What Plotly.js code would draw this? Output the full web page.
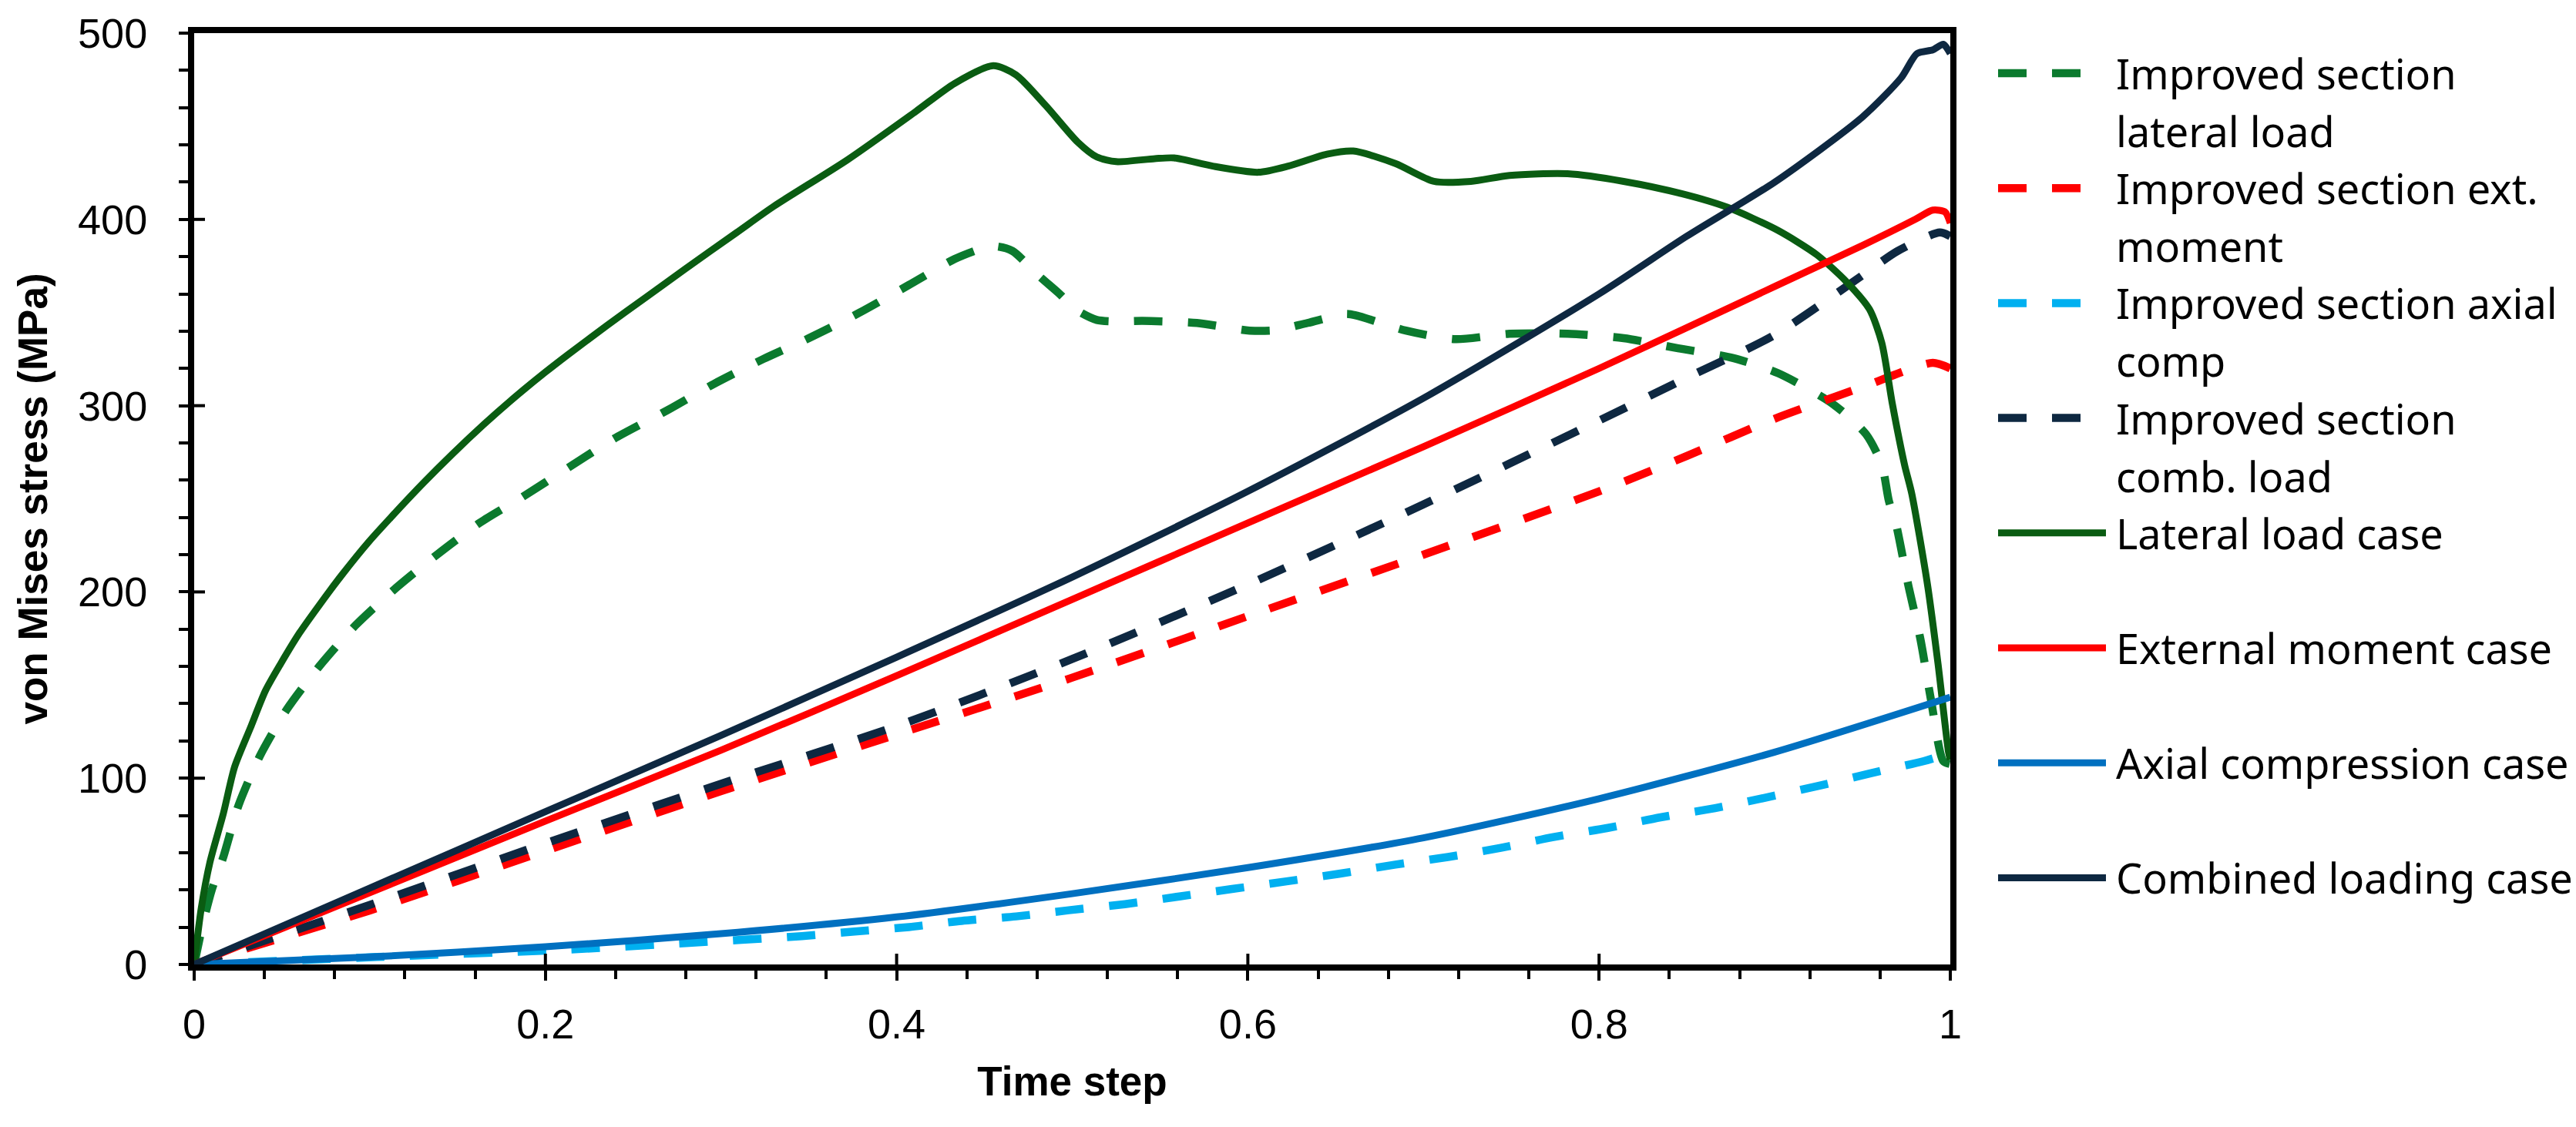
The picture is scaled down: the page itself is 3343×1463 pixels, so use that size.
<!DOCTYPE html>
<html>
<head>
<meta charset="utf-8">
<script src="https://cdn.plot.ly/plotly-3.0.1.min.js"></script>
<style>
  html, body { margin: 0; padding: 0; background: #ffffff; }
  #chart { width: 3343px; height: 1463px; }
</style>
</head>
<body>
<div id="chart"></div>
<script>
// legend labels (line breaks as in the original legend)
const seriesNames = [
    'Improved section<br>lateral load',
    'Improved section ext.<br>moment',
    'Improved section axial<br>comp',
    'Improved section<br>comb. load',
    'Lateral load case',
    'External moment case',
    'Axial compression case',
    'Combined loading case'
];

// Improved section - lateral load (dashed green)
const xImpLateral = [0, 0.005, 0.01, 0.0166, 0.0253, 0.0373, 0.0526, 0.0711, 0.0918, 0.1148, 0.1388, 0.1628, 0.187, 0.213, 0.239, 0.27, 0.296, 0.324, 0.35, 0.379, 0.407, 0.433, 0.449, 0.457, 0.466, 0.481, 0.492, 0.503, 0.514, 0.525, 0.54, 0.571, 0.601, 0.616, 0.634, 0.656, 0.662, 0.69, 0.718, 0.749, 0.782, 0.814, 0.845, 0.876, 0.902, 0.933, 0.952, 0.961, 0.965, 0.969, 0.976, 0.983, 0.989, 0.996, 1.0];
const yImpLateral = [0, 22, 40, 57.7, 85.5, 111.7, 136.7, 159.9, 182, 202, 220.4, 237.2, 251, 266.7, 282.2, 297.8, 311.7, 325, 336.2, 350, 364.8, 378.7, 384.5, 385.5, 383, 369.7, 360.7, 351, 346, 345.2, 345.5, 344.4, 340.3, 340.5, 344.4, 349.3, 348.4, 340.3, 335.7, 338.6, 338.6, 336.2, 330.8, 325.6, 317.4, 301, 284.7, 268.3, 249, 236.8, 204, 174.6, 142, 109.2, 107.6];

// Improved section - external moment (dashed red)
const xImpMoment = [0, 0.1, 0.2, 0.3, 0.4, 0.5, 0.6, 0.7, 0.8, 0.85, 0.9, 0.95, 0.99, 1.0];
const yImpMoment = [0, 29, 61, 93, 123.5, 154, 187, 220, 254, 273, 293, 310, 323, 320];

// Improved section - axial compression (dashed light blue)
const xImpAxial = [0, 0.104, 0.213, 0.28, 0.346, 0.376, 0.407, 0.437, 0.468, 0.498, 0.53, 0.561, 0.591, 0.622, 0.652, 0.684, 0.714, 0.744, 0.774, 0.805, 0.835, 0.866, 0.895, 0.926, 0.955, 0.985, 1.0];
const yImpAxial = [0, 4, 8, 11.5, 15.2, 17.7, 20.1, 23.4, 25.8, 29.1, 32.4, 36.5, 40.5, 44.6, 48.7, 53.6, 57.7, 62.6, 68.4, 73.3, 79, 83.9, 89.6, 96.1, 102.7, 109.2, 113.5];

// Improved section - combined load (dashed navy)
const xImpComb = [0, 0.1, 0.2, 0.3, 0.4, 0.5, 0.6, 0.7, 0.8, 0.85, 0.9, 0.95, 0.97, 0.994, 1.0];
const yImpComb = [0, 32, 65, 97, 128, 164, 204, 247, 292, 315, 338, 370, 383, 393, 391];

// Lateral load case (solid green)
const xLateral = [0, 0.004, 0.009, 0.0166, 0.023, 0.032, 0.0406, 0.0493, 0.06, 0.071, 0.084, 0.0995, 0.112, 0.13, 0.147, 0.165, 0.18, 0.2, 0.213, 0.235, 0.257, 0.279, 0.309, 0.33, 0.372, 0.411, 0.433, 0.455, 0.468, 0.485, 0.503, 0.514, 0.525, 0.547, 0.558, 0.58, 0.606, 0.623, 0.645, 0.66, 0.684, 0.706, 0.727, 0.749, 0.782, 0.814, 0.847, 0.873, 0.902, 0.924, 0.941, 0.954, 0.961, 0.967, 0.974, 0.978, 0.987, 0.993, 0.999, 1.0];
const yLateral = [0, 30, 55, 81, 106, 127, 147, 161.5, 178, 192.6, 209, 227, 240, 258, 274, 290, 302.5, 318, 327.5, 343, 358, 373, 393, 407, 432, 458, 473, 482.5, 477.6, 461, 441.6, 433.5, 431, 432.6, 433, 428.6, 425.3, 428.6, 435, 436.7, 430, 420.4, 420.4, 423.6, 424.5, 420.4, 413.8, 406.5, 394, 381, 366.4, 351.7, 333.7, 301, 268, 253, 204, 161.5, 114, 110];

// External moment case (solid red)
const xMoment = [0, 0.1, 0.2, 0.3, 0.4, 0.5, 0.6, 0.7, 0.8, 0.9, 0.95, 0.98, 0.99, 0.997, 1.0];
const yMoment = [0, 38.5, 77, 115, 155, 196, 237, 278, 320, 364, 386, 400, 405, 404, 398];

// Axial compression case (solid blue)
const xAxial = [0, 0.1, 0.2, 0.3, 0.4, 0.5, 0.6, 0.7, 0.8, 0.9, 1.0];
const yAxial = [0, 4, 9.5, 16.5, 25.5, 38, 52, 68, 89, 114, 143.5];

// Combined loading case (solid navy)
const xComb = [0, 0.1, 0.2, 0.3, 0.4, 0.5, 0.6, 0.7, 0.8, 0.85, 0.9, 0.95, 0.972, 0.981, 0.99, 0.996, 1.0];
const yComb = [0, 41, 82, 123, 165, 208, 254, 304, 360, 391, 420, 455, 476, 489, 491, 494, 489];

const seriesX = [xImpLateral, xImpMoment, xImpAxial, xImpComb, xLateral, xMoment, xAxial, xComb];
const seriesY = [yImpLateral, yImpMoment, yImpAxial, yImpComb, yLateral, yMoment, yAxial, yComb];

// styling
const seriesColors = ['#0b7a2e', '#ff0000', '#00b0f0', '#0e2841', '#0a5c12', '#ff0000', '#0070c0', '#0e2841'];
const seriesDashed = [true, true, true, true, false, false, false, false];
const dashPattern = '37px,33px';
const solidWidth = 9, dashWidth = 10.5;

const traces = seriesNames.map((name, i) => ({
    x: seriesX[i],
    y: seriesY[i],
    name: name.replace('<br>', ' '),
    type: 'scatter',
    mode: 'lines',
    line: {
        color: seriesColors[i],
        width: seriesDashed[i] ? dashWidth : solidWidth,
        dash: seriesDashed[i] ? dashPattern : 'solid',
        shape: 'spline',
        smoothing: 0.7
    },
    hoverinfo: 'skip'
}));

// pixel helpers for the plot box (plot area 252..2531 x 43..1252)
const L = 252, R = 2531, T = 43, B = 1252;
const px = v => (v - L) / (R - L);
const py = v => (B - v) / (B - T);

const shapes = [];
const annotations = [];

// hand-made legend: long line samples like the original
const legendTop = 95, entryStep = 149.2, lineStep = 75;
seriesNames.forEach((name, i) => {
    const yc = legendTop + i * entryStep;
    shapes.push({
        type: 'line', xref: 'paper', yref: 'paper',
        x0: px(2593), x1: px(seriesDashed[i] ? 2701 : 2733),
        y0: py(yc), y1: py(yc),
        line: { color: seriesColors[i], width: seriesDashed[i] ? dashWidth : solidWidth, dash: seriesDashed[i] ? dashPattern : 'solid' }
    });
    name.split('<br>').forEach((part, k) => {
        annotations.push({
            xref: 'paper', yref: 'paper',
            x: px(2744), y: py(yc + k * lineStep),
            xanchor: 'left', yanchor: 'middle',
            text: part, showarrow: false,
            font: { family: 'Noto Sans, DejaVu Sans, sans-serif', size: 54, color: '#000000' }
        });
    });
});

// major ticks cross the frame (inner half)
[100, 200, 300, 400].forEach(v => shapes.push({
    type: 'line', xref: 'paper', yref: 'y', xsizemode: 'pixel', xanchor: 0,
    x0: 0, x1: 14, y0: v, y1: v, line: { color: '#000000', width: 4 }
}));
[0.2, 0.4, 0.6, 0.8].forEach(v => shapes.push({
    type: 'line', xref: 'x', yref: 'paper', ysizemode: 'pixel', yanchor: 0,
    x0: v, x1: v, y0: 0, y1: 14, line: { color: '#000000', width: 4 }
}));

const tickFont = { family: 'Liberation Sans, Arial, sans-serif', size: 54, color: '#000000' };
const titleFont = { family: 'Liberation Sans, Arial, sans-serif', size: 53, color: '#000000', weight: 'bold' };

const layout = {
    width: 3343,
    height: 1463,
    paper_bgcolor: '#ffffff',
    plot_bgcolor: '#ffffff',
    margin: { l: L, r: 3343 - R, t: T, b: 1463 - B },
    showlegend: false,
    xaxis: {
        range: [0, 1],
        tick0: 0,
        dtick: 0.2,
        ticks: 'outside',
        ticklen: 13,
        tickwidth: 4,
        tickcolor: '#000000',
        tickfont: tickFont,
        ticklabelstandoff: 10,
        showline: true,
        linewidth: 8,
        linecolor: '#000000',
        mirror: true,
        showgrid: false,
        zeroline: false,
        minor: { dtick: 0.04, ticks: 'outside', ticklen: 11, tickwidth: 4, tickcolor: '#000000', showgrid: false },
        title: { text: 'Time step', font: titleFont, standoff: 30 }
    },
    yaxis: {
        range: [0, 500],
        tick0: 0,
        dtick: 100,
        ticks: 'outside',
        ticklen: 12,
        tickwidth: 4,
        tickcolor: '#000000',
        tickfont: tickFont,
        ticklabelstandoff: 30,
        showline: true,
        linewidth: 8,
        linecolor: '#000000',
        mirror: true,
        showgrid: false,
        zeroline: false,
        minor: { dtick: 20, ticks: 'outside', ticklen: 12, tickwidth: 4, tickcolor: '#000000', showgrid: false },
        title: { text: 'von Mises stress (MPa)', font: titleFont, standoff: 26 }
    },
    shapes: shapes,
    annotations: annotations
};

Plotly.newPlot('chart', traces, layout, { displayModeBar: false, staticPlot: true });
</script>
</body>
</html>
